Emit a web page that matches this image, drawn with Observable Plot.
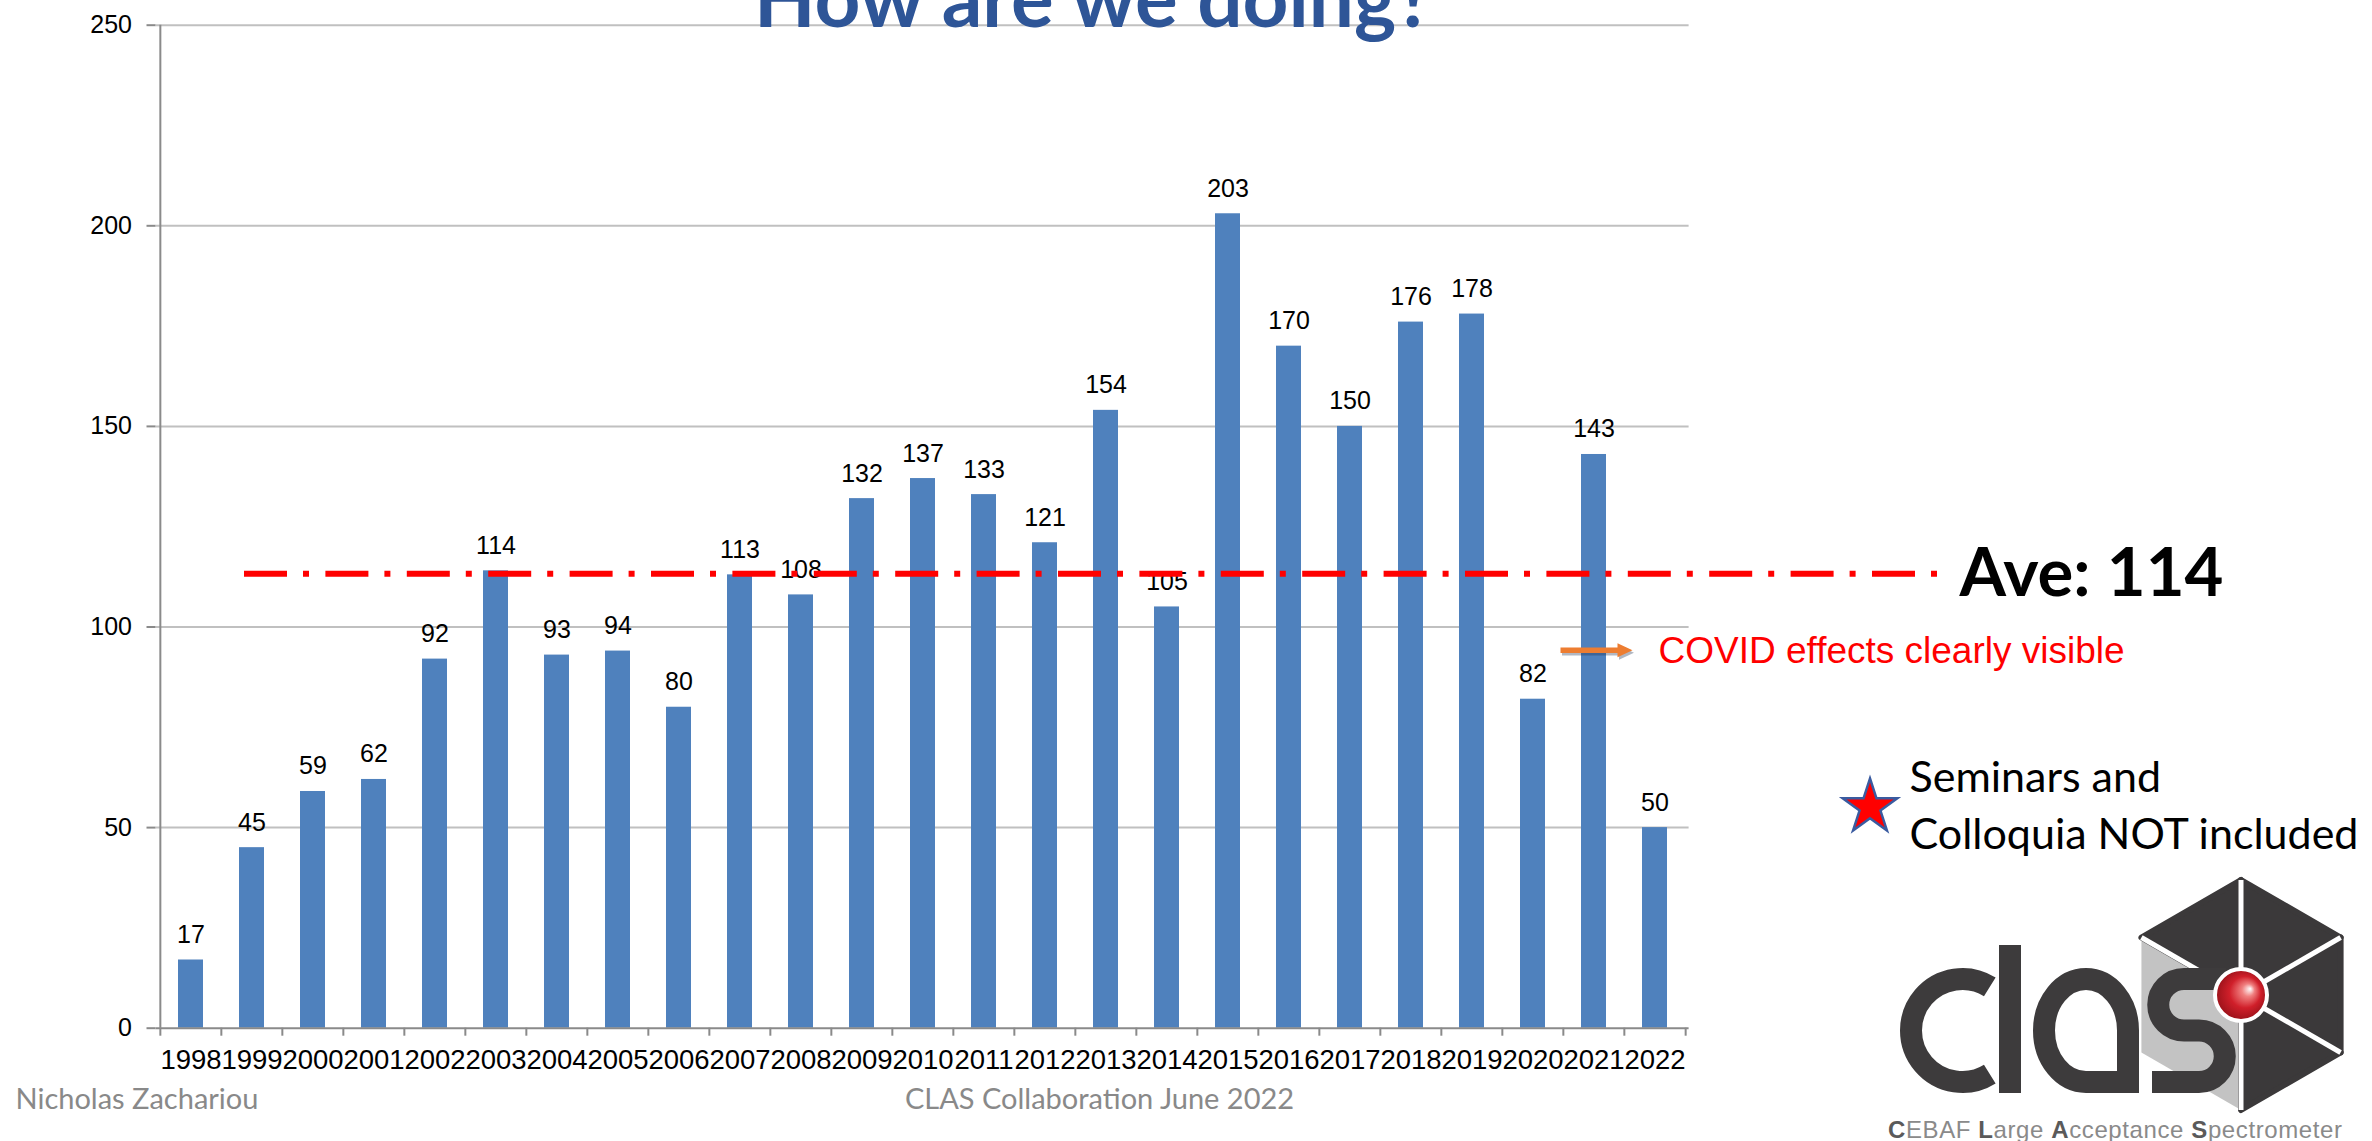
<!DOCTYPE html>
<html>
<head>
<meta charset="utf-8">
<script src="https://cdn.jsdelivr.net/npm/d3@7"></script>
<script src="https://cdn.jsdelivr.net/npm/@observablehq/plot@0.6"></script>
<style>
  html, body { margin: 0; padding: 0; background: #ffffff; overflow: hidden; }
  #chart svg { display: block; }
</style>
</head>
<body>
<div id="chart"></div>
<script>
// ---------------- data ----------------
const years = ["1998","1999","2000","2001","2002","2003","2004","2005","2006","2007","2008","2009",
               "2010","2011","2012","2013","2014","2015","2016","2017","2018","2019","2020","2021","2022"];
const counts = [17,45,59,62,92,114,93,94,80,113,108,132,137,133,121,154,105,203,170,150,176,178,82,143,50];
const yTicks = [0,50,100,150,200,250];
const averageValue = 114;
const averageLineLevel = 113.3;
const covidLevel = 94.1;

const titleText = "How are we doing?";
const averageText = "Ave: " + averageValue;
const covidText = "COVID effects clearly visible";
const noteLines = ["Seminars and", "Colloquia NOT included"];
const footerLeft = "Nicholas Zachariou";
const footerCenter = "CLAS Collaboration June 2022";
const logoWord = "clas";
const logoSubtitle = [["C", true], ["EBAF ", false], ["L", true], ["arge ", false], ["A", true], ["cceptance ", false], ["S", true], ["pectrometer", false]];

const table = years.map((year, i) => ({year, count: counts[i]}));

// ---------------- layout ----------------
const W = 2372, H = 1141;
const ML = 155.5, MR = W - 1688.6, MT = 24.7, MB = H - 1027.7;
const step = (W - ML - MR) / years.length;
const at = (px, py) => ({frameAnchor: "top-left", dx: px - ML, dy: py - MT});
const calibri = "Lato, 'Open Sans', sans-serif";
const arial = "'Liberation Sans', Arial, sans-serif";
const axisGray = "#8a8a8a";

const chart = Plot.plot({
  width: W,
  height: H,
  marginLeft: ML,
  marginRight: MR,
  marginTop: MT,
  marginBottom: MB,
  style: {fontFamily: arial, fontSize: "25px", background: "#ffffff", color: "#000000", overflow: "visible"},
  x: {type: "band", domain: years, paddingInner: 0.59, paddingOuter: 0.295, align: 0.5},
  y: {domain: [0, 250], nice: false},
  marks: [
    Plot.gridY(yTicks.filter(v => v > 0), {stroke: "#c0c0c0", strokeOpacity: 1, strokeWidth: 2}),
    Plot.barY(table, {x: "year", y: "count", fill: "#4F81BD"}),
    // axis lines
    Plot.ruleY([0], {stroke: axisGray, strokeWidth: 2}),
    Plot.ruleX([years[0]], {dx: -step / 2, stroke: axisGray, strokeWidth: 2}),
    // y axis
    Plot.axisY(yTicks, {tickSize: 9, tickPadding: 15, stroke: axisGray, strokeWidth: 2, fill: "#000", fontSize: 25, fontFamily: arial, label: null}),
    // x axis: category-boundary ticks, then labels
    Plot.axisX(years, {tickSize: 8, stroke: axisGray, strokeWidth: 2, fill: "none", tickFormat: () => "", dx: -step / 2, label: null}),
    Plot.axisX([years[years.length - 1]], {tickSize: 8, stroke: axisGray, strokeWidth: 2, fill: "none", tickFormat: () => "", dx: step / 2, label: null}),
    Plot.axisX(years, {tickSize: 0, tickPadding: 21, fill: "#000", fontSize: 27.5, fontFamily: arial, label: null}),
    // value labels
    Plot.text(table, {x: "year", y: "count", text: d => String(d.count), dy: -17, lineAnchor: "bottom", fontSize: 25, fontFamily: arial, fill: "#000"}),
    // average line
    Plot.ruleY([averageLineLevel], {stroke: "#FF0000", strokeWidth: 6, strokeDasharray: "43,16,6,16.4",
      insetLeft: 244 - ML, insetRight: -(1938 - 1688.6)}),
    // title (cut by the top edge)
    Plot.text([titleText], {text: d => d, ...at(1093, 26.7), textAnchor: "middle", lineAnchor: "bottom",
      fontFamily: calibri, fontWeight: "bold", fontSize: 80, fill: "#2E5597"}),
    Plot.text([averageText], {text: d => d, ...at(1959, 595), textAnchor: "start", lineAnchor: "bottom",
      fontFamily: calibri, fontWeight: "bold", fontSize: 67, fill: "#000"}),
    Plot.text([covidText], {text: d => d, ...at(1658, 662), textAnchor: "start", lineAnchor: "bottom",
      fontFamily: arial, fontSize: 37, fill: "#FF0000"}),
    Plot.dot([0], {...at(1869.5, 806.7), symbol: "star", r: 17.2, fill: "#FF0000", stroke: "#3A5BA0", strokeWidth: 2.5}),
    Plot.text([noteLines[0]], {text: d => d, ...at(1909, 791.7), textAnchor: "start", lineAnchor: "bottom",
      fontFamily: calibri, fontSize: 43, fill: "#000"}),
    Plot.text([noteLines[1]], {text: d => d, ...at(1909, 848.3), textAnchor: "start", lineAnchor: "bottom",
      fontFamily: calibri, fontSize: 43, fill: "#000"}),
    Plot.text([footerLeft], {text: d => d, ...at(15, 1108), textAnchor: "start", lineAnchor: "bottom",
      fontFamily: calibri, fontSize: 29, fill: "#898989"}),
    Plot.text([footerCenter], {text: d => d, ...at(1099, 1108), textAnchor: "middle", lineAnchor: "bottom",
      fontFamily: calibri, fontSize: 29, fill: "#898989"})
  ]
});

document.getElementById("chart").appendChild(chart);

// ---------------- annotation arrow (placed with the plot's scales) ----------------
const svg = d3.select(chart.tagName.toLowerCase() === "svg" ? chart : chart.querySelector("svg"));
const xs = chart.scale("x"), ys = chart.scale("y");
const bw = typeof xs.bandwidth === "number" ? xs.bandwidth : 0;
const xc = xs.apply("2021") + bw / 2;
const ya = ys.apply(covidLevel);
const tail = xc - 33, tip = xc + 39, hl = 15, hh = 7, sh = 2.75;
const arrowPts = [[tail, ya - sh], [tip - hl, ya - sh], [tip - hl, ya - hh], [tip, ya], [tip - hl, ya + hh], [tip - hl, ya + sh], [tail, ya + sh]];
const g = svg.append("g");
g.append("polygon").attr("points", arrowPts.map(p => [p[0] + 1.5, p[1] + 2.5].join(",")).join(" "))
  .attr("fill", "#1f3050").attr("opacity", 0.35);
g.append("polygon").attr("points", arrowPts.map(p => p.join(",")).join(" ")).attr("fill", "#ED7D31");

// ---------------- CLAS logo ----------------
const defs = svg.append("defs");
const grad = defs.append("radialGradient").attr("id", "ball").attr("cx", "50%").attr("cy", "50%").attr("r", "55%")
  .attr("fx", "68%").attr("fy", "38%");
grad.append("stop").attr("offset", "0%").attr("stop-color", "#ffffff");
grad.append("stop").attr("offset", "22%").attr("stop-color", "#f08080");
grad.append("stop").attr("offset", "55%").attr("stop-color", "#d01f2a");
grad.append("stop").attr("offset", "100%").attr("stop-color", "#8e0f16");

const logo = svg.append("g");
const cx = 2241, cy = 995, R = 115;
const hx = R * Math.cos(Math.PI / 6), hy = R / 2;
const T = [cx, cy - R], UR = [cx + hx, cy - hy], LR = [cx + hx, cy + hy], B = [cx, cy + R], LL = [cx - hx, cy + hy], UL = [cx - hx, cy - hy], C = [cx, cy];
const dark = "#3b393a";
const poly = pts => pts.map(p => p.join(",")).join(" ");
logo.append("polygon").attr("points", poly([C, B, LL, UL])).attr("fill", "#c3c3c3");
[[C, UL, T], [C, T, UR], [C, UR, LR], [C, LR, B]].forEach(tri => {
  logo.append("polygon").attr("points", poly(tri)).attr("fill", dark).attr("stroke", dark).attr("stroke-width", 6).attr("stroke-linejoin", "round");
});
[UL, T, UR, LR, B].forEach(v => {
  logo.append("line").attr("x1", C[0]).attr("y1", C[1]).attr("x2", v[0]).attr("y2", v[1]).attr("stroke", "#ffffff").attr("stroke-width", 5);
});
// letters "clas" (geometric glyphs)
const sw = 22, col = "#3d3b3c";
const glyphs = logo.append("g").attr("fill", "none").attr("stroke", col).attr("stroke-width", sw).attr("aria-label", logoWord);
const ccx = 1962.5, ccy = 1030.5, cr = 51.5, a0 = 58 * Math.PI / 180;
glyphs.append("path").attr("d", `M${ccx + cr * Math.cos(a0)},${ccy - cr * Math.sin(a0)} A${cr},${cr} 0 1 0 ${ccx + cr * Math.cos(a0)},${ccy + cr * Math.sin(a0)}`);
logo.append("rect").attr("x", 1999).attr("y", 945).attr("width", 22).attr("height", 148).attr("fill", col);
glyphs.append("path").attr("d", "M2128,1082 L2128,1030.5 A42,51.5 0 1 0 2086,1082 Z").attr("stroke-linejoin", "miter");
glyphs.append("path").attr("d", "M2226,979 L2184,979 A25.75,25.75 0 0 0 2184,1030.5 L2199,1030.5 A25.75,25.75 0 0 1 2199,1082 L2152,1082");
// red ball
logo.append("circle").attr("cx", cx).attr("cy", cy).attr("r", 26).attr("fill", "url(#ball)").attr("stroke", "#ffffff").attr("stroke-width", 4);
// subtitle
const sub = logo.append("text").attr("x", 1888).attr("y", 1138).attr("text-anchor", "start").attr("font-family", arial).attr("font-size", 24)
  .attr("letter-spacing", "0.6px").attr("fill", "#8a8a8a");
logoSubtitle.forEach(([s, b]) => sub.append("tspan").text(s).attr("font-weight", b ? "bold" : "normal").attr("fill", b ? "#5a5a5a" : "#8a8a8a"));
</script>
</body>
</html>
